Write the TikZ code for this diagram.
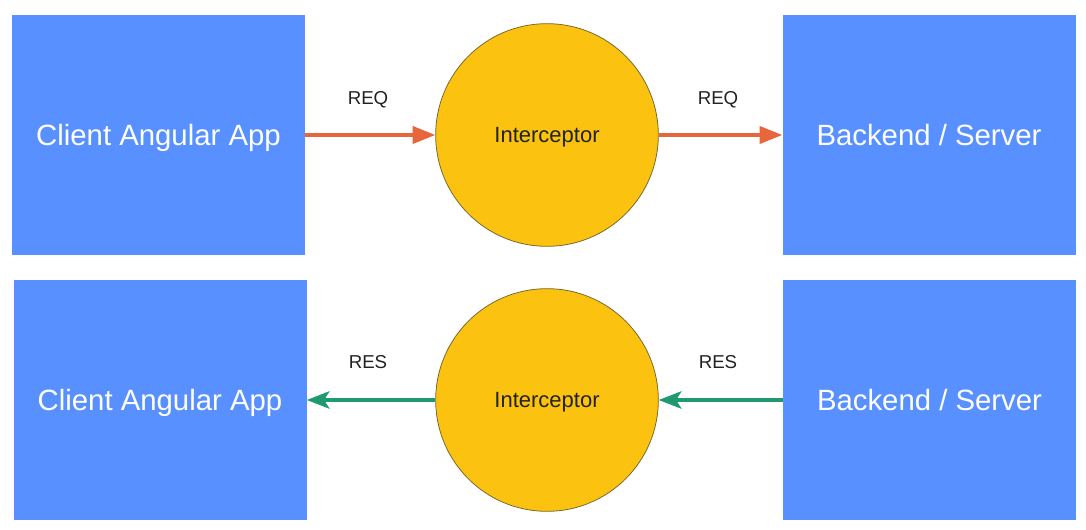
\documentclass[tikz,border=0pt]{standalone}
\usepackage{fontspec}
\setmainfont{Liberation Sans}
\usetikzlibrary{arrows.meta}
\definecolor{boxblue}{HTML}{5890FF}
\definecolor{icyellow}{HTML}{FBC30F}
\definecolor{icedge}{HTML}{7A6A2E}
\definecolor{reqorange}{HTML}{E8663C}
\definecolor{resgreen}{HTML}{1E9A6E}
\definecolor{labelgray}{HTML}{222222}
\tikzset{
  appbox/.style={fill=boxblue, draw=none, minimum width=219.75pt, minimum height=180pt, inner sep=0pt, text height=15.75pt, text depth=0pt, text=white, font=\fontsize{22}{26}\selectfont},
  icircle/.style={circle, fill=icyellow, draw=icedge, line width=0.6pt, minimum size=167pt, inner sep=0pt, text height=11.8pt, text depth=0pt, text=labelgray, font=\fontsize{16.5}{20}\selectfont},
  reqarrow/.style={draw=reqorange, line width=2.3pt, -{Triangle[length=17pt, width=13pt]}},
  resarrow/.style={draw=resgreen, line width=2.3pt, -{Stealth[length=17pt, width=13pt, inset=4pt]}},
  arrlabel/.style={text=labelgray, font=\fontsize{14}{17}\selectfont, inner sep=0pt, text height=10pt, text depth=0pt}
}
\begin{document}
\begin{tikzpicture}[x=0.75pt,y=-0.75pt]
\useasboundingbox (0,0) rectangle (1086,530);
% top row
\node[appbox] (c1) at (158.5,135) {Client Angular App};
\node[icircle] (i1) at (547,135) {Interceptor};
\node[appbox] (s1) at (929,135) {Backend / Server};
% bottom row
\node[appbox] (c2) at (160,400) {Client Angular App};
\node[icircle] (i2) at (547,400) {Interceptor};
\node[appbox] (s2) at (929.5,400) {Backend / Server};
% arrows
\draw[reqarrow] (c1) -- (i1);
\draw[reqarrow] (i1) -- (s1);
\draw[resarrow] (i2) -- (c2);
\draw[resarrow] (s2) -- (i2);
% labels
\node[arrlabel] (l1) at (368,98) {REQ};
\node[arrlabel] (l2) at (718,98) {REQ};
\node[arrlabel] (l3) at (368,362) {RES};
\node[arrlabel] (l4) at (718,362) {RES};
\end{tikzpicture}
\end{document}
